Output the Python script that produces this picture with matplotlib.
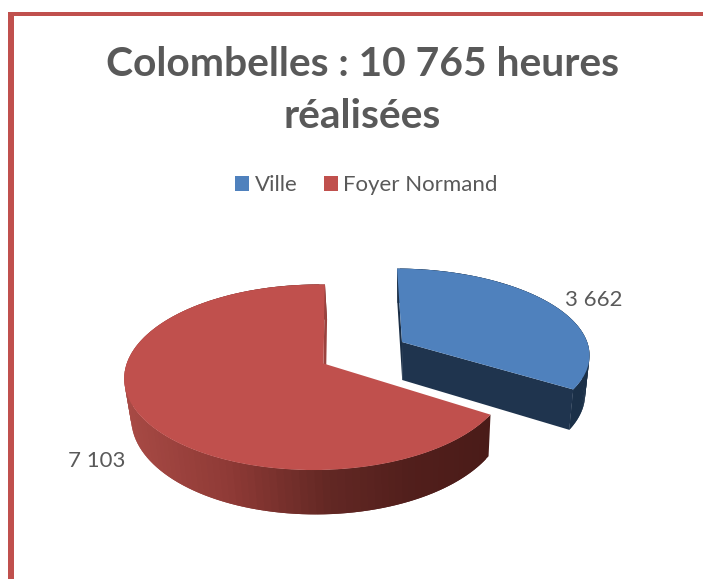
import numpy as np
import matplotlib
matplotlib.use("Agg")
import matplotlib.pyplot as plt
from matplotlib.patches import Patch, Rectangle
from matplotlib.transforms import Transform
from matplotlib.colors import to_rgb

categories = ["Ville", "Foyer Normand"]
values = [3662, 7103]
value_labels = ["3 662", "7 103"]
title = "Colombelles : 10 765 heures\nréalisées"
top_colors = ["#4F81BD", "#C0504D"]

FONT = ["Lato", "DejaVu Sans"]
TXT = "#595959"

# perspective parameters per slice: screen tip, a, b, d, p, q
persp = [
    dict(x0=402.0, y0=342.0, a=187.0, b=-5.6, d=83.0, p=0.13, q=0.01),
    dict(x0=323.5, y0=363.5, a=189.5, b=1.7, d=90.7, p=0.148, q=0.037),
]


def project(uv, par):
    uv = np.atleast_2d(uv)
    u, v = uv[:, 0], uv[:, 1]
    w = 1 + par["q"] * u + par["p"] * v
    return np.column_stack([par["x0"] + (par["a"] * u + par["b"] * v) / w,
                            par["y0"] - par["d"] * v / w])


def drop(xy):
    xy = np.atleast_2d(xy)
    return np.column_stack([xy[:, 0] - (xy[:, 0] - 410) * 0.0245,
                            xy[:, 1] + 38 + 0.05 * (xy[:, 1] - 342)])


class Persp(Transform):
    input_dims = output_dims = 2
    is_affine = False
    has_inverse = False

    def __init__(self, center, par):
        super().__init__()
        self.center = np.asarray(center)
        self.par = par

    def transform_non_affine(self, values):
        return project(np.asarray(values) - self.center, self.par)


fig = plt.figure(figsize=(7.03, 5.79), dpi=100, facecolor="white")
ax = fig.add_axes([0, 0, 1, 1])

wedges, _ = ax.pie(values, explode=[0.5, 0], startangle=90, counterclock=False,
                   colors=top_colors, radius=1, wedgeprops=dict(linewidth=0))
ax.set_aspect("auto")
ax.set_xlim(0, 703)
ax.set_ylim(579, 0)
ax.axis("off")


def arc(par, t1, t2, n=2):
    th = np.radians(np.linspace(t1, t2, n))
    return project(np.column_stack([np.cos(th), np.sin(th)]), par)


def quad(a, b, color, z):
    """wall hanging below the top-surface points a and b"""
    pts = np.vstack([a, b, drop(b), drop(a)])
    ax.fill(pts[:, 0], pts[:, 1], facecolor=color, edgecolor="none", linewidth=0, zorder=z)


red_stops_x = [125, 230, 330, 410, 492]
red_stops = [np.array(to_rgb(c)) for c in ["#A84A45", "#8F3A36", "#632824", "#521F1C", "#4A1B18"]]

for w, par, kind in zip(wedges, persp, ["blue", "red"]):
    t1, t2 = w.theta1, w.theta2
    tip = project([[0, 0]], par)
    rim = arc(par, t1, t2, 121)
    if kind == "blue":
        quad(rim[0], rim[1], "#1B3048", 2)
        for i in range(len(rim) - 2):
            quad(rim[i], rim[i + 2], "#1B3048", 2)
        quad(tip, rim[0], "#1F344E", 3)   # radial face at the clockwise end
        quad(tip, rim[-1], "#1B2F47", 3)  # radial face at 12 o'clock
    else:
        # walk from the front-right corner to the back so each strip overlaps the previous
        for i in range(len(rim) - 1, 1, -1):
            xm = rim[i, 0]
            c = [np.interp(xm, red_stops_x, [s[k] for s in red_stops]) for k in range(3)]
            quad(rim[i], rim[i - 2], tuple(c), 2)
        quad(tip, rim[0], "#9A423E", 3)   # radial face at 12 o'clock
    w.set_transform(Persp(w.center, par) + ax.transData)
    w.set_zorder(5)

# frame lines
ax.add_patch(Rectangle((8, 12), 695, 3.5, facecolor="#C0504D", edgecolor="none", zorder=6))
ax.add_patch(Rectangle((8, 12), 5.5, 567, facecolor="#C0504D", edgecolor="none", zorder=6))

lines = title.split("\n")
ax.text(362.5, 64, lines[0], ha="center", va="center", fontsize=29.3,
        fontweight="bold", color=TXT, family=FONT)
ax.text(362.5, 117, lines[1], ha="center", va="center", fontsize=29.3,
        fontweight="bold", color=TXT, family=FONT)

handles = [Patch(facecolor=c, edgecolor="none") for c in top_colors]
ax.legend(handles, categories, ncol=2, loc="center", bbox_to_anchor=(366.5, 185),
          bbox_transform=ax.transData, frameon=False,
          prop=dict(family=FONT, size=16), labelcolor=TXT, handlelength=0.64, handleheight=0.64,
          handletextpad=0.23, columnspacing=1.2, borderpad=0)

ax.text(594, 300, value_labels[0], ha="center", va="center", fontsize=16, color=TXT, family=FONT)
ax.text(97, 461, value_labels[1], ha="center", va="center", fontsize=16, color=TXT, family=FONT)

fig.savefig("out.png", dpi=100, facecolor="white")
